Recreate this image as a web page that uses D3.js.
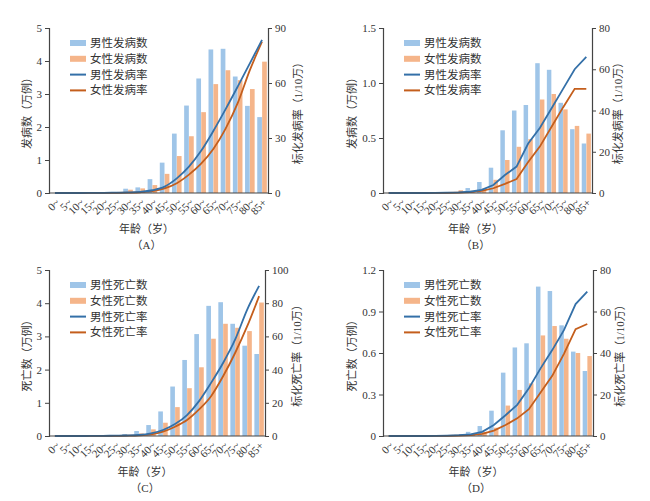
<!DOCTYPE html>
<html>
<head>
<meta charset="utf-8">
<script src="https://cdn.jsdelivr.net/npm/d3@7"></script>
<style>
    body { margin: 0; background: #fff; }
    svg text { font-family: "Liberation Serif", "Noto Sans CJK SC", serif; fill: #333; }
</style>
</head>
<body>
<svg id="chart"></svg>
<script>
// Age groups
const ages = ["0~", "5~", "10~", "15~", "20~", "25~", "30~", "35~", "40~", "45~",
              "50~", "55~", "60~", "65~", "70~", "75~", "80~", "85+"];

// (A) incidence counts (10k cases) and standardized rates (1/100k)
const incMaleCountA   = [0, 0, 0, 0, 0.01, 0.03, 0.13, 0.17, 0.42, 0.92, 1.8, 2.65, 3.47, 4.35, 4.37, 3.53, 2.64, 2.3];
const incFemaleCountA = [0, 0, 0, 0, 0.01, 0.03, 0.1, 0.14, 0.24, 0.58, 1.12, 1.72, 2.45, 3.3, 3.72, 3.42, 3.15, 3.98];
const incMaleRateA    = [0, 0, 0, 0.05, 0.1, 0.2, 0.3, 0.6, 1.5, 3.5, 8, 14.4, 23, 33.8, 45.6, 58, 70.7, 83.5];
const incFemaleRateA  = [0, 0, 0, 0.02, 0.05, 0.1, 0.2, 0.4, 1.0, 2.5, 5.3, 10, 16, 24, 35, 49, 67, 82.5];

// (B)
const incMaleCountB   = [0, 0, 0, 0, 0, 0, 0.01, 0.045, 0.1, 0.23, 0.57, 0.75, 0.8, 1.18, 1.12, 0.82, 0.58, 0.45];
const incFemaleCountB = [0, 0, 0, 0, 0, 0, 0.025, 0.02, 0.04, 0.12, 0.3, 0.42, 0.49, 0.85, 0.9, 0.76, 0.61, 0.54];
const incMaleRateB    = [0, 0, 0, 0, 0.1, 0.2, 0.3, 0.6, 1.5, 3.9, 8.7, 12.8, 24, 31.5, 41, 50.5, 60, 66];
const incFemaleRateB  = [0, 0, 0, 0, 0.05, 0.1, 0.2, 0.4, 1.0, 2.3, 4.4, 6.8, 15, 22.5, 32, 41.5, 50.5, 50.5];

// (C) mortality counts and rates
const deathMaleCountC   = [0, 0, 0, 0, 0.01, 0.02, 0.06, 0.15, 0.33, 0.74, 1.49, 2.29, 3.07, 3.92, 4.03, 3.38, 2.72, 2.47];
const deathFemaleCountC = [0, 0, 0, 0, 0.01, 0.01, 0.03, 0.08, 0.2, 0.4, 0.87, 1.44, 2.07, 2.93, 3.38, 3.26, 3.16, 4.02];
const deathMaleRateC    = [0, 0, 0, 0.05, 0.1, 0.2, 0.3, 0.6, 1.6, 3.6, 7.2, 12.6, 21, 32, 44, 58, 76, 90.4];
const deathFemaleRateC  = [0, 0, 0, 0.02, 0.05, 0.1, 0.2, 0.4, 1.0, 2.6, 5.6, 9.6, 16, 24, 36, 50, 66, 84.3];

// (D)
const deathMaleCountD   = [0, 0, 0, 0, 0, 0, 0.01, 0.03, 0.072, 0.183, 0.458, 0.64, 0.67, 1.08, 1.048, 0.8, 0.61, 0.47];
const deathFemaleCountD = [0, 0, 0, 0, 0, 0, 0.01, 0.015, 0.03, 0.06, 0.22, 0.333, 0.38, 0.727, 0.795, 0.703, 0.6, 0.578];
const deathMaleRateD    = [0, 0, 0, 0, 0.1, 0.2, 0.4, 0.8, 2, 5.3, 10, 15, 23, 32.6, 41.4, 51, 63.6, 69.6];
const deathFemaleRateD  = [0, 0, 0, 0, 0.05, 0.1, 0.2, 0.4, 1, 2.6, 5.3, 8.5, 12.9, 21, 29, 39.6, 51.5, 54];

// Axis ticks
const leftTicksA = [0, 1, 2, 3, 4, 5],        rightTicksA = [0, 30, 60, 90];
const leftTicksB = [0, 0.5, 1.0, 1.5],        rightTicksB = [0, 20, 40, 60, 80];
const leftTicksC = [0, 1, 2, 3, 4, 5],        rightTicksC = [0, 20, 40, 60, 80, 100];
const leftTicksD = [0, 0.3, 0.6, 0.9, 1.2],   rightTicksD = [0, 20, 40, 60, 80];

const incLegend   = ["男性发病数", "女性发病数", "男性发病率", "女性发病率"];
const deathLegend = ["男性死亡数", "女性死亡数", "男性死亡率", "女性死亡率"];

const colors = {
    maleBar: "#9fc5e8",
    femaleBar: "#f5b58a",
    maleLine: "#3470a8",
    femaleLine: "#c45e1c"
};

const width = 650, height = 501;

const svg = d3.select("#chart")
    .attr("width", width)
    .attr("height", height);

const panels = [
    { tag: "（A）", box: [49, 268, 28, 193], male: incMaleCountA, female: incFemaleCountA,
      maleRate: incMaleRateA, femaleRate: incFemaleRateA, lt: leftTicksA, rt: rightTicksA,
      fmt: d3.format("d"), legend: incLegend, yTitle: "发病数（万例）", rTitle: "标化发病率（1/10万）",
      curve: d3.curveMonotoneX, titleX: [27, 298] },
    { tag: "（B）", box: [383, 592, 28, 193], male: incMaleCountB, female: incFemaleCountB,
      maleRate: incMaleRateB, femaleRate: incFemaleRateB, lt: leftTicksB, rt: rightTicksB,
      fmt: d => d === 0 ? "0" : d3.format(".1f")(d), legend: incLegend, yTitle: "发病数（万例）",
      rTitle: "标化发病率（1/10万）", curve: d3.curveLinear, titleX: [352, 618] },
    { tag: "（C）", box: [49, 265, 270, 436], male: deathMaleCountC, female: deathFemaleCountC,
      maleRate: deathMaleRateC, femaleRate: deathFemaleRateC, lt: leftTicksC, rt: rightTicksC,
      fmt: d3.format("d"), legend: deathLegend, yTitle: "死亡数（万例）", rTitle: "标化死亡率（1/10万）",
      curve: d3.curveMonotoneX, titleX: [27, 297] },
    { tag: "（D）", box: [383, 593, 270, 436], male: deathMaleCountD, female: deathFemaleCountD,
      maleRate: deathMaleRateD, femaleRate: deathFemaleRateD, lt: leftTicksD, rt: rightTicksD,
      fmt: d => d === 0 ? "0" : d3.format(".1f")(d), legend: deathLegend, yTitle: "死亡数（万例）",
      rTitle: "标化死亡率（1/10万）", curve: d3.curveLinear, titleX: [352, 620] }
];

panels.forEach(drawPanel);

function drawPanel(p) {
    const [x0, x1, y0, y1] = p.box;
    const g = svg.append("g");

    // Scales
    const x = d3.scaleBand().domain(ages).range([x0, x1]).paddingInner(0.18).paddingOuter(0.08);
    const xSub = d3.scaleBand().domain(["m", "f"]).range([0, x.bandwidth()]).padding(0.04);
    const yL = d3.scaleLinear().domain([0, d3.max(p.lt)]).range([y1, y0]);
    const yR = d3.scaleLinear().domain([0, d3.max(p.rt)]).range([y1, y0]);

    // Bars
    const rows = ages.map((a, i) => ({ age: a, m: p.male[i], f: p.female[i] }));
    const grp = g.append("g").selectAll("g")
        .data(rows)
        .join("g")
        .attr("transform", d => `translate(${x(d.age)},0)`);
    grp.selectAll("rect")
        .data(d => [{ k: "m", v: d.m }, { k: "f", v: d.f }])
        .join("rect")
        .attr("x", d => xSub(d.k))
        .attr("width", xSub.bandwidth())
        .attr("y", d => yL(d.v))
        .attr("height", d => y1 - yL(d.v))
        .attr("fill", d => d.k === "m" ? colors.maleBar : colors.femaleBar);

    // Rate lines
    const line = d3.line()
        .x((d, i) => x(ages[i]) + x.bandwidth() / 2)
        .y(d => yR(d))
        .curve(p.curve);
    g.append("path").datum(p.femaleRate)
        .attr("d", line).attr("fill", "none")
        .attr("stroke", colors.femaleLine).attr("stroke-width", 1.8);
    g.append("path").datum(p.maleRate)
        .attr("d", line).attr("fill", "none")
        .attr("stroke", colors.maleLine).attr("stroke-width", 1.8);

    // Axes
    const left = g.append("g")
        .attr("transform", `translate(${x0},0)`)
        .call(d3.axisLeft(yL).tickValues(p.lt).tickFormat(p.fmt).tickSize(4).tickPadding(3));
    const right = g.append("g")
        .attr("transform", `translate(${x1},0)`)
        .call(d3.axisRight(yR).tickValues(p.rt).tickFormat(d3.format("d")).tickSize(4).tickPadding(3));
    const bottom = g.append("g")
        .attr("transform", `translate(0,${y1})`)
        .call(d3.axisBottom(x).tickSize(0).tickPadding(0));
    [left, right, bottom].forEach(a => {
        a.select(".domain").attr("stroke", "#444").attr("stroke-width", 1.2);
        a.selectAll(".tick line").attr("stroke", "#444");
        a.selectAll("text").attr("font-size", 11).attr("fill", "#444");
    });
    bottom.select(".domain").attr("d", `M${x0},0H${x1}`);
    bottom.selectAll(".tick text")
        .attr("text-anchor", "end")
        .attr("dy", "0.3em")
        .attr("transform", "translate(3,8) rotate(-45)");

    // Axis titles
    const yMid = (y0 + y1) / 2;
    g.append("text")
        .attr("transform", `translate(${p.titleX[0]},${yMid}) rotate(-90)`)
        .attr("text-anchor", "middle").attr("dy", "0.35em")
        .attr("font-size", 11).text(p.yTitle);
    g.append("text")
        .attr("transform", `translate(${p.titleX[1]},${yMid}) rotate(-90)`)
        .attr("text-anchor", "middle").attr("dy", "0.35em")
        .attr("font-size", 11).text(p.rTitle);
    const xMid = (x0 + x1) / 2 - 12;
    g.append("text")
        .attr("x", xMid).attr("y", y1 + 40)
        .attr("text-anchor", "middle").attr("font-size", 11).text("年龄（岁）");
    g.append("text")
        .attr("x", xMid).attr("y", y1 + 56)
        .attr("text-anchor", "middle").attr("font-size", 11).text(p.tag);

    // Legend
    const lg = g.append("g").attr("transform", `translate(${x0 + 21},${y0 + 15})`);
    const items = lg.selectAll("g")
        .data(p.legend)
        .join("g")
        .attr("transform", (d, i) => `translate(0,${i * 15.8})`);
    items.filter((d, i) => i < 2).append("rect")
        .attr("x", 0).attr("y", -3).attr("width", 16).attr("height", 6)
        .attr("fill", (d, i) => i === 0 ? colors.maleBar : colors.femaleBar);
    items.filter((d, i) => i >= 2).append("line")
        .attr("x1", 0).attr("x2", 16)
        .attr("stroke", (d, i) => i === 0 ? colors.maleLine : colors.femaleLine)
        .attr("stroke-width", 2);
    items.append("text")
        .attr("x", 20).attr("dy", "0.35em")
        .attr("font-size", 11.5)
        .text(d => d);
}
</script>
</body>
</html>
